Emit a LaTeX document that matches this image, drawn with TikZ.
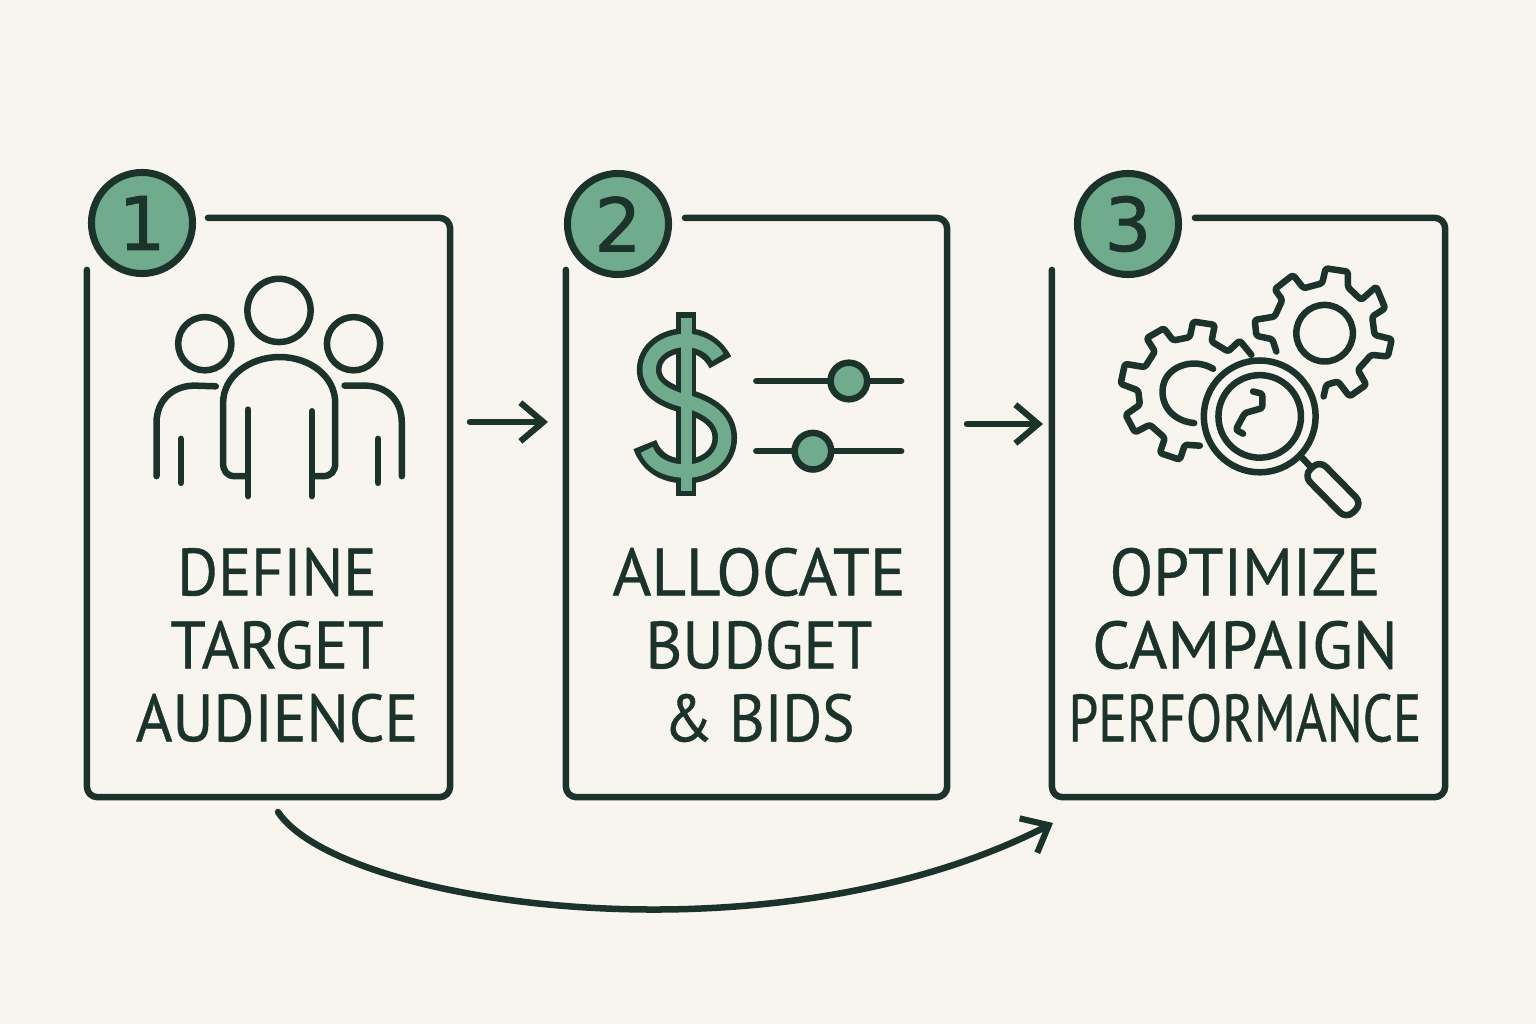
\documentclass[tikz,border=0pt]{standalone}
\usepackage{fontspec}
\setmainfont{PT Sans}[FakeBold=0.6]
\newfontfamily\numfont{DejaVu Sans}[FakeBold=1.2]
\usetikzlibrary{arrows.meta,positioning}
\definecolor{paper}{HTML}{F8F4EE}
\definecolor{ink}{HTML}{1B332B}
\definecolor{sage}{HTML}{6FAB8C}
\newcommand{\mkpanel}[3]{\draw[pen,rounded corners=3pt] ([xshift=#2]#1.north west) -- (#1.north east) -- (#1.south east) -- (#1.south west) -- ([yshift=-#3]#1.north west);}
\newcommand{\mkline}[2]{\scalebox{#1}[1]{#2}}

\begin{document}
\begin{tikzpicture}[
    x=.01cm,y=-.01cm,
    pen/.style={draw=ink,line width=1.85pt,line cap=round,line join=round},
    panel/.style={inner sep=0pt,outer sep=0pt},
    badge/.style={circle,draw=ink,fill=sage,line width=2pt,minimum size=1.01cm,inner sep=0pt,text=ink,font=\numfont\fontsize{21}{21}\selectfont},
    steptext/.style={align=center,text=ink,font=\fontsize{19}{20.75}\selectfont},
    flow/.style={pen,-{Straight Barb[length=6.5pt,width=11pt,line width=1.75pt]}},
    knob/.style={pen,fill=sage},
  ]
  \fill[paper] (0,0) rectangle (1536,1024);
  \useasboundingbox (0,0) rectangle (1536,1024);

  \node[panel,minimum width=3.63cm,minimum height=5.79cm] (boxa) at (268.5,507.5) {};
  \node[panel,minimum width=3.81cm,minimum height=5.79cm] (boxb) at (756.5,507.5) {};
  \node[panel,minimum width=3.93cm,minimum height=5.79cm] (boxc) at (1248.5,507.5) {};
  \mkpanel{boxa}{1.21cm}{.52cm}
  \mkpanel{boxb}{1.19cm}{.52cm}
  \mkpanel{boxc}{1.43cm}{.52cm}

  \node[badge] (numa) at (142,223) {1};
  \node[badge] (numb) at (618,224) {2};
  \node[badge] (numc) at (1128,224) {3};

  \node[steptext] (texta) at (277,645) {\mkline{.93}{DEFINE}\\\mkline{.96}{TARGET}\\\mkline{.94}{AUDIENCE}};
  \node[steptext] (textb) at (759,645) {ALLOCATE\\\mkline{.945}{BUDGET}\\\mkline{.91}{\&\ BIDS}};
  \node[steptext] (textc) at (1245,645) {\mkline{.957}{OPTIMIZE}\\CAMPAIGN\\\mkline{.795}{PERFORMANCE}};

  % people
  \begin{scope}[shift={(70,160)},x=.00333cm,y=-.00333cm]
    \draw[pen] (628,452) circle[radius=95];
    \draw[pen] (405,552) circle[radius=80];
    \draw[pen] (852,552) circle[radius=80];
    \draw[pen] (530,950) -- (495,950) .. controls (472,950) and (460,935) .. (460,910)
      -- (460,730) .. controls (460,650) and (540,592) .. (630,592)
      .. controls (720,592) and (797,650) .. (797,730) -- (797,910)
      .. controls (797,935) and (785,950) .. (760,950) -- (730,950);
    \draw[pen] (535,750) -- (535,1010);
    \draw[pen] (727,755) -- (727,1010);
    \draw[pen] (260,950) -- (260,790) .. controls (260,720) and (310,678) .. (375,678) -- (438,680);
    \draw[pen] (333,838) -- (333,970);
    \draw[pen] (997,950) -- (997,790) .. controls (997,720) and (950,678) .. (885,678) -- (825,678);
    \draw[pen] (926,838) -- (926,970);
  \end{scope}

  % dollar and sliders
  \begin{scope}[shift={(550,170)},x=.00333cm,y=-.00333cm]
    \foreach \wd/\bw/\cl/\sh in {7pt/5.7pt/ink/0pt,3.8pt/2.9pt/sage/1.6pt}{
      \draw[color=\cl,line width=\wd,shorten >=\sh,shorten <=\sh] (512,578) .. controls (490,535) and (450,512) .. (410,512)
        .. controls (345,512) and (298,550) .. (298,600) .. controls (298,650) and (345,680) .. (410,695)
        .. controls (480,715) and (525,750) .. (525,805) .. controls (525,865) and (470,905) .. (410,905)
        .. controls (350,905) and (305,880) .. (285,825);
      \draw[color=\cl,line width=\bw,shorten >=\sh,shorten <=\sh] (410,428) -- (410,980);
    }
    \draw[pen] (620,634) -- (1055,634);
    \draw[pen] (620,845) -- (1055,845);
    \draw[knob] (898,634) circle[radius=55];
    \draw[knob] (790,845) circle[radius=55];
  \end{scope}

  % gears and magnifier
  \begin{scope}[shift={(1080,250)},x=.00333cm,y=-.00333cm]
    \draw[pen,rounded corners=.7pt] (590,305) -- (578,268) -- (530,258) -- (525,210) -- (585,200) -- (608,150)
      -- (585,118) -- (640,75) -- (672,115) -- (728,100) -- (738,55) -- (805,65) -- (805,112) -- (845,150)
      -- (890,110) -- (917,175) -- (878,200) -- (885,255) -- (937,268) -- (925,320) -- (875,315) -- (835,360)
      -- (860,405) -- (810,440) -- (775,395) -- (740,405) -- (732,440);
    \draw[pen] (735,250) circle[radius=85];
    \draw[pen,rounded corners=.7pt] (515,315) -- (480,272) -- (445,305) -- (395,275) -- (405,225) -- (340,215)
      -- (330,262) -- (280,272) -- (252,235) -- (200,265) -- (225,305) -- (195,352) -- (135,342) -- (122,402)
      -- (175,422) -- (180,465) -- (137,495) -- (165,548) -- (210,525) -- (255,565) -- (240,610) -- (300,630)
      -- (315,585) -- (360,588);
    \draw[pen] (400,357) .. controls (340,320) and (248,350) .. (248,425) .. controls (248,480) and (290,515) .. (343,520);
    \draw[pen] (540,500) circle[radius=168];
    \draw[pen] (540,500) circle[radius=124];
    \draw[pen,rounded corners=.7pt] (520,425) -- (548,432) -- (548,475) -- (495,490) -- (468,540) -- (490,552);
    \draw[pen] (665,622) -- (690,648);
    \draw[pen,rounded corners=2.6pt] (720,632) -- (848,762) -- (800,808) -- (672,678) -- cycle;
  \end{scope}

  \coordinate (gapa) at (470,422);
  \coordinate (gapb) at (548,422);
  \coordinate (gapc) at (967,424);
  \coordinate (gapd) at (1043,424);
  \coordinate (curvea) at (278,812);
  \coordinate (curveb) at (1053,823);
  \draw[flow] (gapa) -- (gapb);
  \draw[flow] (gapc) -- (gapd);
  \draw[flow] (curvea) .. controls (340,905) and (770,968) .. (curveb);
\end{tikzpicture}
\end{document}
